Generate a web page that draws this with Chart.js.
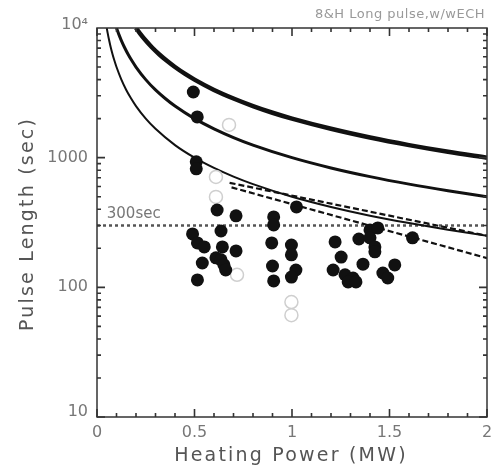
<!DOCTYPE html>
<html><head><meta charset="utf-8">
<script src="https://cdn.jsdelivr.net/npm/chart.js@4.4.0/dist/chart.umd.min.js"></script>
<style>html,body{margin:0;padding:0;background:#fff}#wrap{width:495px;height:472px}</style>
</head><body><div id="wrap"><canvas id="c" width="495" height="472"></canvas></div>
<script>
const chartTitle = "8&H Long pulse,w/wECH";
const xTitle = "Heating Power (MW)";
const yTitle = "Pulse Length (sec)";
const xTicks = [0, 0.5, 1, 1.5, 2];
const xTickLabels = ["0", "0.5", "1", "1.5", "2"];
const yTicks = [10, 100, 1000, 10000];
const yTickLabels = ["10", "100", "1000", "10\u2074"];
const refLevel = 300;
const refLabel = "300sec";

const filledP = [0.494,0.514,0.509,0.509,0.616,0.713,0.636,0.49,0.515,0.55,0.643,0.713,0.54,0.61,0.636,0.651,0.66,0.515,
  0.906,0.906,0.896,0.9,0.906,0.997,0.997,1.02,0.997,1.023,
  1.221,1.343,1.252,1.211,1.272,1.313,1.364,1.288,1.328,1.40,1.44,1.40,1.425,1.425,1.466,1.491,1.527,1.618];
const filledT = [3210,2060,930,820,395,356,272,258,220,205,205,191,154,169,163,149,136,114,
  349,303,220,146,112,212,178,136,120,417,
  224,236,171,136,125,118,151,110,110,277,287,241,205,188,129,118,149,241];
const openP = [0.677,0.61,0.61,0.718,0.997,0.997];
const openT = [1790,710,498,125,77,61];

const thickP = [0.2,0.22,0.25,0.28,0.32,0.36,0.4,0.45,0.5,0.6,0.7,0.8,0.9,1.0,1.2,1.4,1.6,1.8,2.0];
const thickT = [10000,9090,8000,7140,6250,5560,5000,4440,4000,3330,2860,2500,2220,2000,1670,1430,1250,1110,1000];
const midP = [0.1,0.11,0.125,0.14,0.16,0.18,0.2,0.25,0.3,0.35,0.4,0.5,0.6,0.7,0.8,1.0,1.2,1.4,1.6,1.8,2.0];
const midT = [10000,9090,8000,7140,6250,5560,5000,4000,3330,2860,2500,2000,1670,1430,1250,1000,833,714,625,556,500];
const thinP = [0.05,0.055,0.0625,0.07,0.08,0.09,0.1,0.125,0.15,0.175,0.2,0.25,0.3,0.4,0.5,0.6,0.7,0.8,1.0,1.2,1.4,1.6,1.8,2.0];
const thinT = [10000,9090,8000,7140,6250,5560,5000,4000,3330,2860,2500,2000,1670,1250,1000,833,714,625,500,417,357,313,278,250];
const dashAP = [0.68, 2.0];
const dashAT = [640, 250];
const dashBP = [0.69, 2.0];
const dashBT = [590, 168];
const refP = [0, 2];
const xMinorStep = [0,0.1,0.2,0.3,0.4,0.5,0.6,0.7,0.8,0.9,1,1.1,1.2,1.3,1.4,1.5,1.6,1.7,1.8,1.9,2];
const yMinorMult = [1,2,3,4,5,6,7,8,9];

const pts = (xs, ys) => xs.map((x, i) => ({x: x, y: ys[i]}));
const FONT = "'DejaVu Sans', sans-serif";

const lineDs = (data, w, dash, color) => ({
  data: data, showLine: true, pointRadius: 0, borderColor: color || '#111',
  borderWidth: w, borderDash: dash || [], tension: 0.35, cubicInterpolationMode: 'monotone', fill: false
});

const decor = {
  id: 'decor',
  afterDatasetsDraw(chart) {
    const ctx = chart.ctx, a = chart.chartArea;
    const xs = chart.scales.x, ys = chart.scales.y;
    ctx.save();
    ctx.setLineDash([]);
    ctx.strokeStyle = '#333'; ctx.lineWidth = 1.5;
    ctx.strokeRect(a.left, a.top, a.right - a.left, a.bottom - a.top);
    ctx.strokeStyle = '#333';
    ctx.lineWidth = 1.6;
    ctx.beginPath();
    xMinorStep.forEach((v, i) => {
      const px = xs.getPixelForValue(v);
      const len = (i % 5 === 0) ? 8 : 4;
      ctx.moveTo(px, a.bottom); ctx.lineTo(px, a.bottom - len);
      ctx.moveTo(px, a.top); ctx.lineTo(px, a.top + len);
    });
    [10, 100, 1000].forEach(d => {
      yMinorMult.forEach(m => {
        const py = ys.getPixelForValue(d * m);
        const len = (m === 1) ? 8 : 4;
        ctx.moveTo(a.left, py); ctx.lineTo(a.left + len, py);
        ctx.moveTo(a.right, py); ctx.lineTo(a.right - len, py);
      });
    });
    ctx.stroke();
    ctx.fillStyle = '#777';
    ctx.font = '16px ' + FONT;
    ctx.textAlign = 'center'; ctx.textBaseline = 'top';
    xTicks.forEach((v, i) => ctx.fillText(xTickLabels[i], xs.getPixelForValue(v), a.bottom + 8));
    ctx.textAlign = 'right'; ctx.textBaseline = 'middle';
    yTicks.forEach((v, i) => {
      let py = ys.getPixelForValue(v);
      if (i === 0) py -= 5;
      if (i === yTicks.length - 1) py -= 3;
      ctx.fillText(yTickLabels[i], a.left - 9, py);
    });
    ctx.fillStyle = '#555';
    ctx.font = '19px ' + FONT;
    ctx.letterSpacing = '2.2px';
    ctx.textAlign = 'center'; ctx.textBaseline = 'middle';
    ctx.fillText(xTitle, 291, 456);
    ctx.save();
    ctx.translate(28, 224);
    ctx.rotate(-Math.PI / 2);
    ctx.fillText(yTitle, 0, 0);
    ctx.restore();
    ctx.letterSpacing = '0px';
    ctx.fillStyle = '#777';
    ctx.font = '15px ' + FONT;
    ctx.textAlign = 'left'; ctx.textBaseline = 'bottom';
    ctx.fillText(refLabel, xs.getPixelForValue(0.05), ys.getPixelForValue(refLevel) - 4);
    ctx.fillStyle = '#999';
    ctx.font = '13px ' + FONT;
    ctx.letterSpacing = '0.5px';
    ctx.textAlign = 'right'; ctx.textBaseline = 'middle';
    ctx.fillText(chartTitle, a.right - 2, 15);
    ctx.restore();
  }
};

new Chart(document.getElementById('c'), {
  type: 'scatter',
  data: {
    datasets: [
      { data: pts(filledP, filledT), pointRadius: 6.5, pointBackgroundColor: '#111', pointBorderColor: '#111', pointBorderWidth: 0, showLine: false },
      { data: pts(openP, openT), pointRadius: 6.5, pointBackgroundColor: 'rgba(255,255,255,0)', pointBorderColor: '#cfcfcf', pointBorderWidth: 1.5, showLine: false },
      lineDs(pts(thickP, thickT), 4.5),
      lineDs(pts(midP, midT), 3),
      lineDs(pts(thinP, thinT), 2),
      lineDs(pts(dashAP, dashAT), 2.2, [6, 3]),
      lineDs(pts(dashBP, dashBT), 2.2, [6, 3]),
      lineDs(pts(refP, [refLevel, refLevel]), 2.5, [3, 3], '#555')
    ]
  },
  options: {
    responsive: false, animation: false, events: [],
    layout: { padding: { top: 28, right: 5, left: 0, bottom: 0 } },
    plugins: { legend: { display: false }, tooltip: { enabled: false } },
    scales: {
      x: { type: 'linear', min: 0, max: 2,
        grid: { display: false, drawTicks: false }, border: { display: false },
        ticks: { display: false }, afterFit(s) { s.height = 55; } },
      y: { type: 'logarithmic', min: 10, max: 10000,
        grid: { display: false, drawTicks: false }, border: { display: false },
        ticks: { display: false }, afterFit(s) { s.width = 97; } }
    }
  },
  plugins: [decor]
});
</script>
</body></html>
